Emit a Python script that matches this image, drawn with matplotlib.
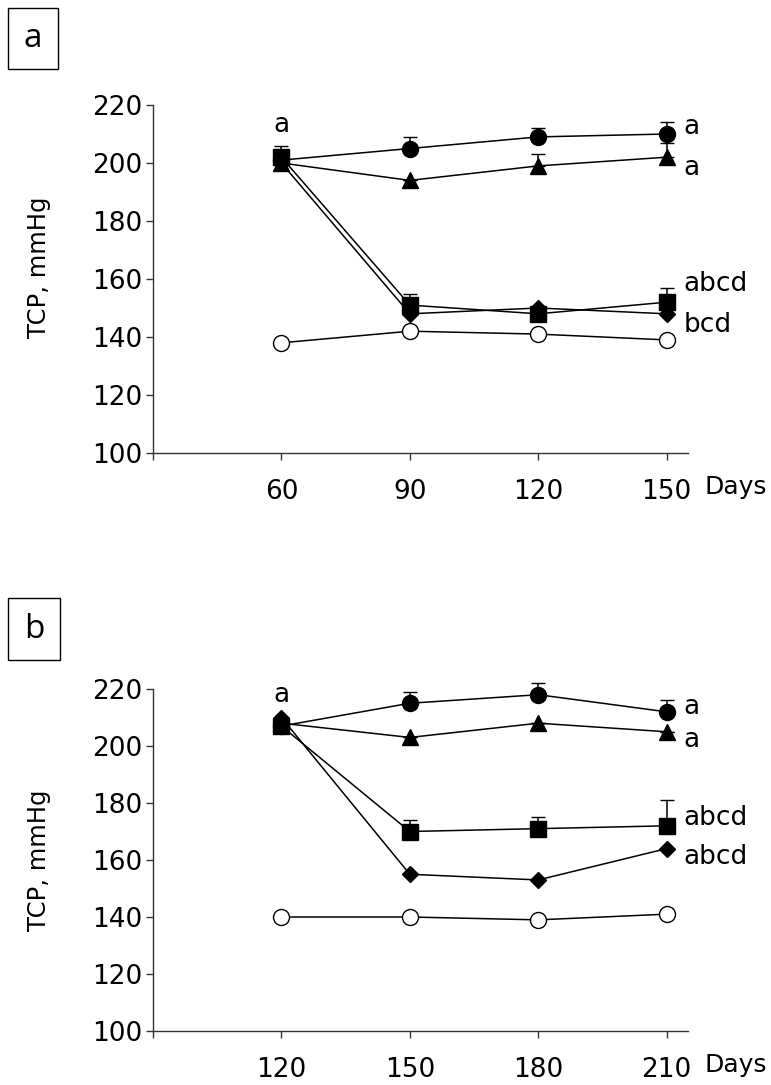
import numpy as np
import matplotlib
matplotlib.use('Agg')
import matplotlib.pyplot as plt
from matplotlib.patches import Rectangle

plt.rcParams['font.family'] = ['DejaVu Sans']

# Panel a
days_a = [60, 90, 120, 150]
circ_a = [201, 205, 209, 210]
circ_a_err = [0, 4, 3, 4]
tri_a = [200, 194, 199, 202]
tri_a_err = [0, 0, 4, 5]
sq_a = [202, 151, 148, 152]
sq_a_err = [4, 4, 0, 5]
dia_a = [200, 148, 150, 148]
open_a = [138, 142, 141, 139]
labels_a = [("a", 212.4), ("a", 198.3), ("abcd", 158.3), ("bcd", 144.1)]

# Panel b
days_b = [120, 150, 180, 210]
circ_b = [207, 215, 218, 212]
circ_b_err = [0, 4, 4, 4]
tri_b = [208, 203, 208, 205]
tri_b_err = [0, 0, 0, 0]
sq_b = [207, 170, 171, 172]
sq_b_err = [0, 4, 4, 9]
dia_b = [210, 155, 153, 164]
open_b = [140, 140, 139, 141]
labels_b = [("a", 213.8), ("a", 202.1), ("abcd", 174.7), ("abcd", 161.2)]

W, H = 771, 1085
fig = plt.figure(figsize=(W / 100, H / 100), dpi=100)
ax_a = fig.add_axes([153 / W, 1 - 453 / H, 535 / W, 348 / H])
ax_b = fig.add_axes([153 / W, 1 - 1031 / H, 535 / W, 342 / H])


def draw_panel(ax, days, circ, circ_err, tri, tri_err, sq, sq_err, dia, opn,
               right_labels, first_tick, top_label_y, ylabel_y):
    kw = dict(color='black', lw=1.1, clip_on=False)
    ax.errorbar(days, opn, fmt='-o', ms=11.5, mfc='white', mec='black', mew=1.0,
                zorder=3, **kw)
    ax.errorbar(days, tri, yerr=[np.zeros(4), tri_err], fmt='-^', ms=12,
                capsize=5, elinewidth=1.1, zorder=4, **kw)
    ax.errorbar(days, circ, yerr=[np.zeros(4), circ_err], fmt='-o', ms=11.5,
                capsize=5, elinewidth=1.1, zorder=5, **kw)
    ax.errorbar(days, dia, fmt='-D', ms=8.5, zorder=6, **kw)
    ax.errorbar(days, sq, yerr=[np.zeros(4), sq_err], fmt='-s', ms=11,
                capsize=5, elinewidth=1.1, zorder=7, **kw)

    ax.set_xlim(first_tick, days[-1] + 5)
    ax.set_ylim(100, 220)
    ax.set_yticks(np.arange(100, 221, 20))
    ax.set_xticks([first_tick] + days)
    ax.set_xticklabels([''] + [str(d) for d in days])
    ax.spines['top'].set_visible(False)
    ax.spines['right'].set_visible(False)
    for s in ('left', 'bottom'):
        ax.spines[s].set_linewidth(1.0)
        ax.spines[s].set_color('#333333')
    ax.tick_params(direction='out', length=5, width=1.0, labelsize=19,
                   color='#333333', pad=3)
    ax.tick_params(axis='x', pad=14)
    ax.set_ylabel('TCP, mmHg', fontsize=17.5)
    ax.yaxis.set_label_coords(-0.19, ylabel_y)

    ax.text(days[0], top_label_y, 'a', fontsize=19, ha='center', va='center')
    for txt, y in right_labels:
        ax.text(days[-1] + 4, y, txt, fontsize=19, ha='left', va='center',
                clip_on=False)
    ax.text(1.03, -0.098, 'Days', transform=ax.transAxes, fontsize=18,
            ha='left', va='center')


draw_panel(ax_a, days_a, circ_a, circ_a_err, tri_a, tri_a_err, sq_a, sq_a_err,
           dia_a, open_a, labels_a, 30, 213, 0.535)
draw_panel(ax_b, days_b, circ_b, circ_b_err, tri_b, tri_b_err, sq_b, sq_b_err,
           dia_b, open_b, labels_b, 90, 218, 0.5)

# panel letter boxes
for letter, (x0, y0, x1, y1) in [('a', (8, 8, 58, 69)), ('b', (8, 598, 60, 660))]:
    fig.patches.append(Rectangle((x0 / W, 1 - y1 / H), (x1 - x0) / W, (y1 - y0) / H,
                                 transform=fig.transFigure, fc='white',
                                 ec='black', lw=1.0))
    fig.text((x0 + x1) / 2 / W, 1 - (y0 + y1) / 2 / H, letter, fontsize=24,
             ha='center', va='center', family=['Open Sans', 'DejaVu Sans'])

plt.savefig('out.png', dpi=100)
plt.close()
